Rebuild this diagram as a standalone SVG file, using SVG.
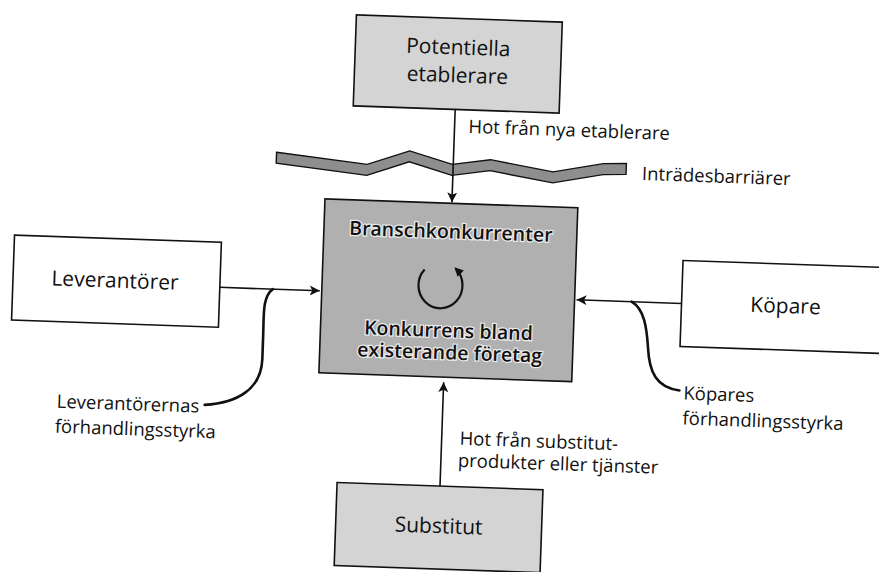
<svg xmlns="http://www.w3.org/2000/svg" width="879" height="572" viewBox="0 0 879 572">
<style>
  .box { stroke: #111; stroke-width: 1.6; }
  .light { fill: #d4d4d4; }
  .dark { fill: #b0b0b0; }
  .white { fill: #ffffff; }
  .lbl { font-family: "Open Sans", "Noto Sans", "DejaVu Sans", sans-serif; fill: #111; }
  .node { font-size: 21px; text-anchor: middle; }
  .side { font-size: 18.5px; }
  .bold { font-weight: 600; font-size: 19.5px; text-anchor: middle; paint-order: stroke; stroke: #ffffff; stroke-width: 2.5px; stroke-opacity: 0.75; }
  .conn { fill: none; stroke: #111; stroke-width: 1.6; }
  .brace { fill: none; stroke: #111; stroke-width: 2.6; stroke-linecap: round; }
</style>
<defs>
  <marker id="arr" viewBox="0 0 10 10" refX="10" refY="5" markerUnits="userSpaceOnUse" markerWidth="11" markerHeight="10" orient="auto">
    <path d="M0,0 L10,5 L0,10 L2.5,5 z" fill="#111"/>
  </marker>
  <marker id="arrS" viewBox="0 0 10 10" refX="8" refY="5" markerUnits="userSpaceOnUse" markerWidth="10" markerHeight="9" orient="auto">
    <path d="M0,0 L10,5 L0,10 z" fill="#111"/>
  </marker>
</defs>
<rect width="879" height="572" fill="#ffffff"/>
<g transform="rotate(2 440 286)">
  <g id="barriar">
    <polygon points="272,158 363,167 405,152 448,164 486,158 549,168 599,158 622,157 622,168 599,169 549,179 486,169 448,175 405,163 363,178 272,169" fill="#8e8e8e" stroke="#111" stroke-width="1.4" stroke-linejoin="miter"/>
    <text class="lbl side" x="638" y="173">Inträdesbarriärer</text>
  </g>
  <g id="connectors">
    <line class="conn" x1="449" y1="109" x2="449" y2="202" marker-end="url(#arr)"/>
    <line class="conn" x1="447" y1="486" x2="447" y2="382" marker-end="url(#arr)"/>
    <line class="conn" x1="220" y1="295" x2="320" y2="295" marker-end="url(#arr)"/>
    <line class="conn" x1="682" y1="295" x2="577" y2="295" marker-end="url(#arr)"/>
    <path class="brace" d="M273,295 C263,303 265,320 265,340 L265,365 C265,395 242,410 209,413"/>
    <path class="brace" d="M632,295 C645,302 648,320 650,340 C652,365 660,380 683,382"/>
  </g>
  <g id="potentiella">
    <rect class="box light" x="347" y="18" width="206" height="91"/>
    <text class="lbl node" x="450" y="54" font-size="21.5">Potentiella</text>
    <text class="lbl node" x="450" y="82" font-size="21.5">etablerare</text>
  </g>
  <text class="lbl side" x="463" y="132">Hot från nya etablerare</text>
  <g id="bransch">
    <rect class="box dark" x="322" y="203" width="253" height="174"/>
    <text class="lbl bold" x="449" y="238" font-size="20.5">Branschkonkurrenter</text>
    <path d="M424,270 A22 23 0 1 0 455,268" fill="none" stroke="#111" stroke-width="2.2" marker-end="url(#arrS)"/>
    <text class="lbl bold" x="450" y="337">Konkurrens bland</text>
    <text class="lbl bold" x="452" y="359">existerande företag</text>
  </g>
  <g id="leverantorer">
    <rect class="box white" x="13" y="250" width="207" height="85"/>
    <text class="lbl node" x="115" y="299" font-size="20">Leverantörer</text>
  </g>
  <g id="kopare">
    <rect class="box white" x="682" y="252" width="210" height="86"/>
    <text class="lbl node" x="786" y="301">Köpare</text>
  </g>
  <g id="substitut">
    <rect class="box light" x="344" y="486" width="206" height="83"/>
    <text class="lbl node" x="447" y="533">Substitut</text>
  </g>
  <text class="lbl side" x="465" y="444">Hot från substitut-</text>
  <text class="lbl side" x="464" y="466">produkter eller tjänster</text>
  <text class="lbl side" x="61" y="421">Leverantörernas</text>
  <text class="lbl side" x="60" y="446">förhandlingsstyrka</text>
  <text class="lbl side" x="687" y="391">Köpares</text>
  <text class="lbl side" x="687" y="416">förhandlingsstyrka</text>
</g>
</svg>
